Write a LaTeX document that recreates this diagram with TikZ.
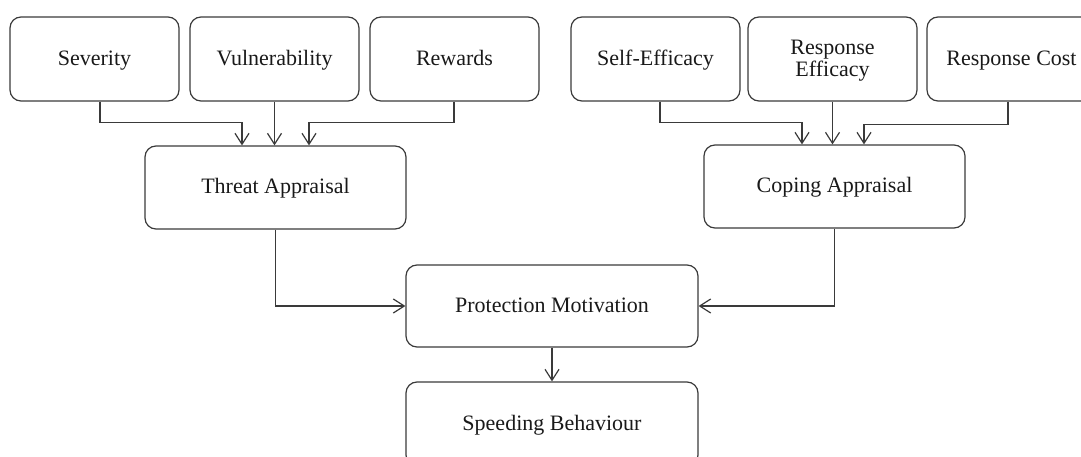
\documentclass[tikz,border=0pt]{standalone}
\usepackage{fontspec}
\setmainfont{Liberation Serif}
\usetikzlibrary{arrows.meta}
\definecolor{linec}{HTML}{3A3A3A}
\tikzset{
  box/.style={draw=linec, line width=1.2pt, rounded corners=11pt, align=center,
    font=\fontsize{22}{22}\selectfont, text=black!90, inner sep=0pt,
    text height=1.3em, text depth=0.02em},
  topbox/.style={box, minimum width=169pt, minimum height=84pt},
  twoline/.style={text height=, text depth=},
  midbox/.style={box, minimum width=261pt, minimum height=83pt},
  lowbox/.style={box, minimum width=292pt, minimum height=82pt},
  arr/.style={draw=linec, line width=1.2pt, -{Straight Barb[length=11pt,width=14pt,line width=1.2pt]}}
}
\begin{document}
\begin{tikzpicture}[x=1pt,y=-1pt]
\useasboundingbox (0,0) rectangle (1081,457);
\clip (0,0) rectangle (1081,457);
\node[topbox] (sev) at (94.5,59) {Severity};
\node[topbox] (vul) at (274.5,59) {Vulnerability};
\node[topbox] (rew) at (454.5,59) {Rewards};
\node[topbox] (sef) at (655.5,59) {Self-Efficacy};
\node[topbox, twoline] (ref) at (832.5,59) {\rule{0pt}{17pt}Response\\Efficacy};
\node[topbox] (rco) at (1011.5,59) {Response Cost};
\node[midbox] (thr) at (275.5,187.5) {Threat Appraisal};
\node[midbox] (cop) at (834.5,186.5) {Coping Appraisal};
\node[lowbox] (pro) at (552,306) {Protection Motivation};
\node[lowbox, minimum height=84pt] (spe) at (552,424) {Speeding Behaviour};
% threat inputs
\draw[arr] ([xshift=5.5pt]sev.south) -- ++(0,21) -| ([xshift=-33.5pt]thr.north);
\draw[arr] (vul.south) -- (vul.south |- thr.north);
\draw[arr] ([xshift=-0.5pt]rew.south) -- ++(0,21) -| ([xshift=33.5pt]thr.north);
% coping inputs
\draw[arr] ([xshift=4.5pt]sef.south) -- ++(0,21) -| ([xshift=-32.5pt]cop.north);
\draw[arr] (ref.south) -- (ref.south |- cop.north);
\draw[arr] ([xshift=-3.5pt]rco.south) -- ++(0,23) -| ([xshift=29.5pt]cop.north);
% to protection
\draw[arr] (thr.south) |- (pro.west);
\draw[arr] (cop.south) |- (pro.east);
\draw[arr] (pro.south) -- (spe.north);
\end{tikzpicture}
\end{document}
